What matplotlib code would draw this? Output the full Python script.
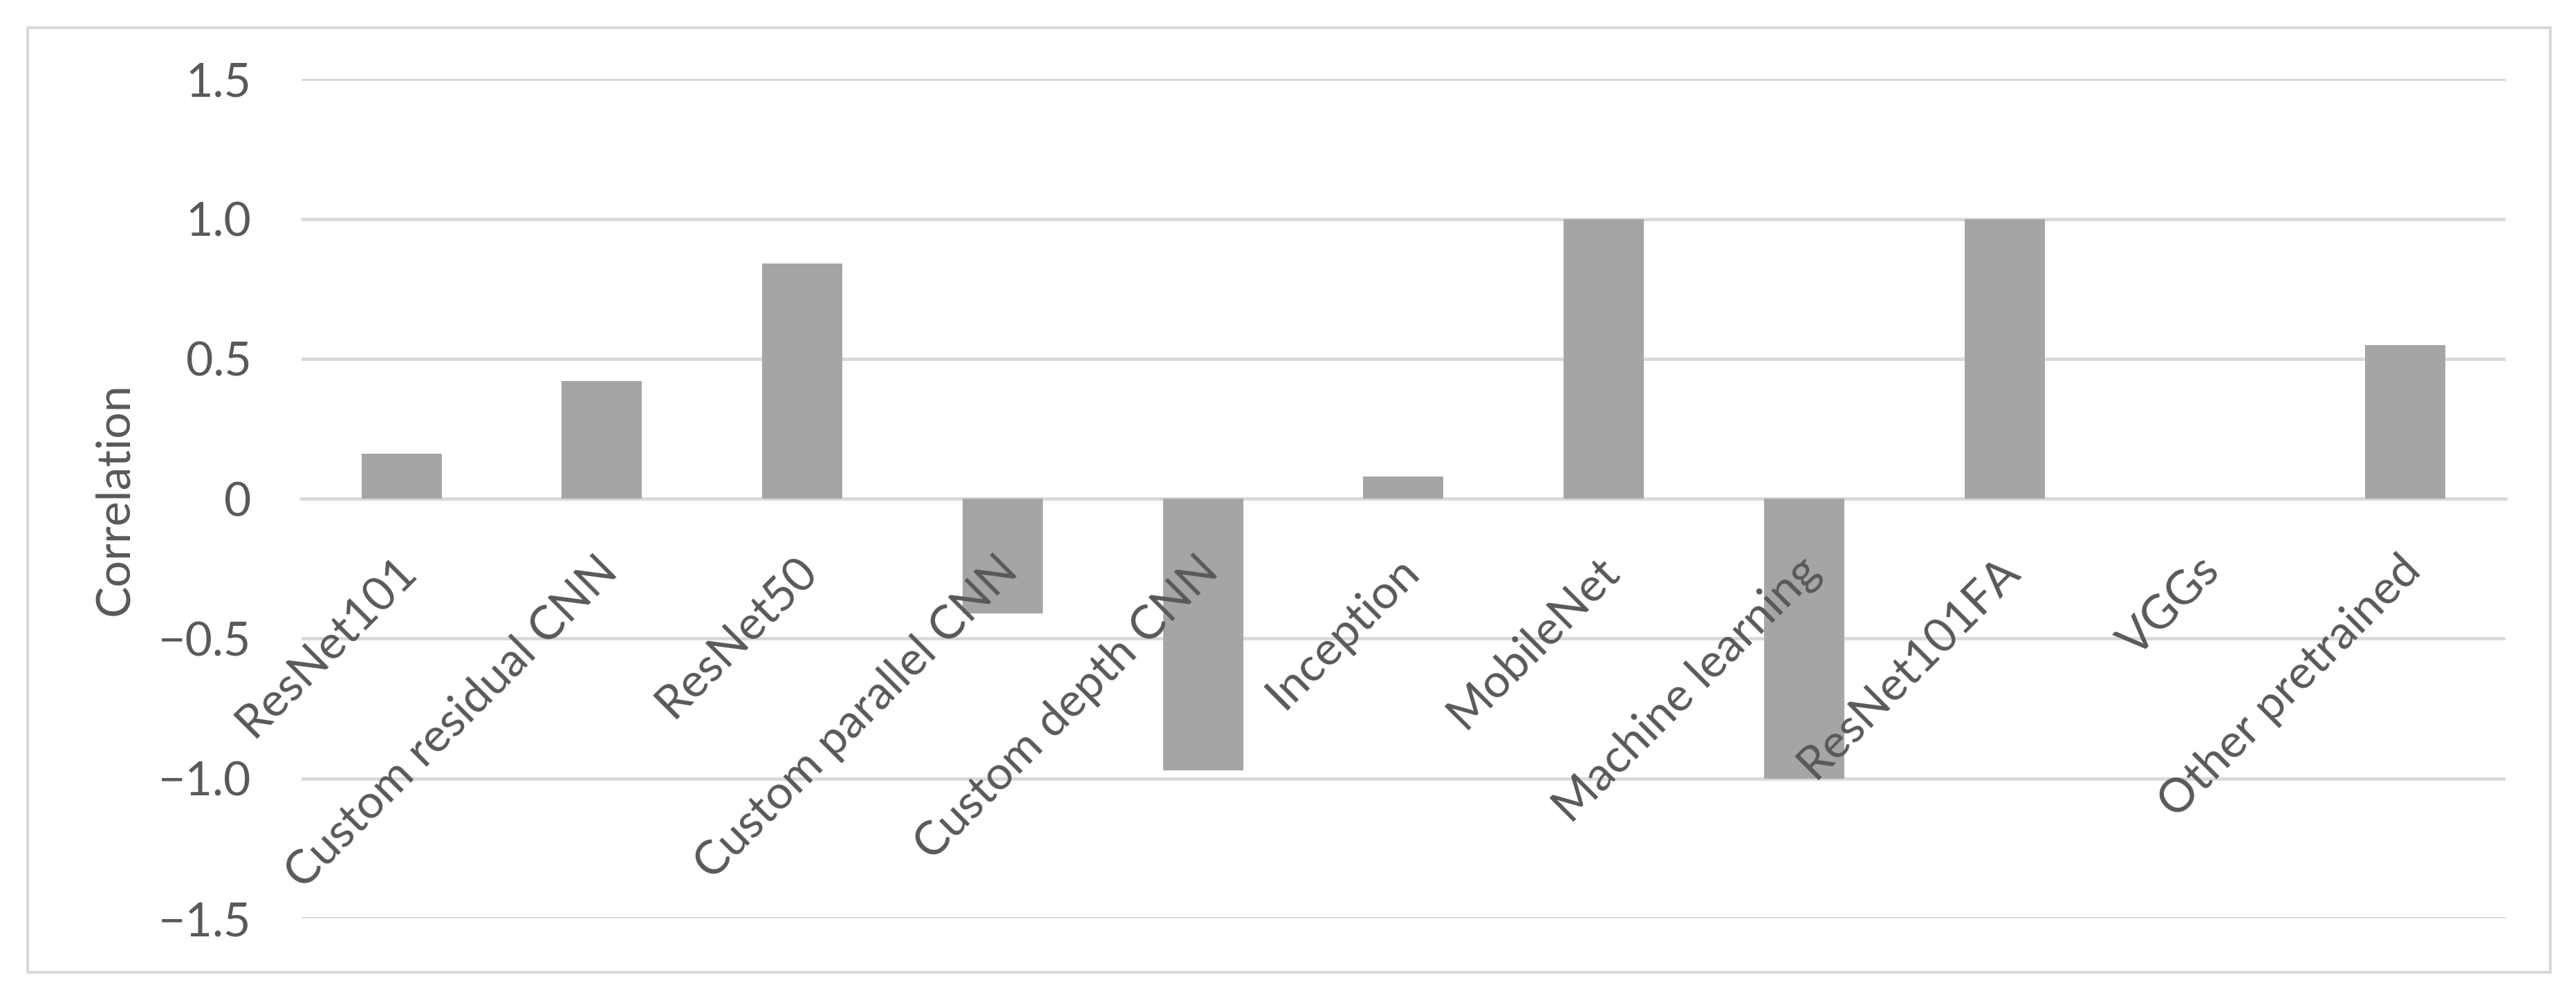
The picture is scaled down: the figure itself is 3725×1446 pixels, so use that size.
import matplotlib.pyplot as plt
from matplotlib.patches import Rectangle
from matplotlib.transforms import ScaledTranslation

# data
models = ["ResNet101", "Custom residual CNN", "ResNet50", "Custom parallel CNN",
          "Custom depth CNN", "Inception", "MobileNet", "Machine learning",
          "ResNet101FA", "VGGs", "Other pretrained"]
correlation = [0.16, 0.42, 0.84, -0.41, -0.97, 0.08, 1.0, -1.0, 1.0, 0.0, 0.55]
y_ticks = [-1.5, -1.0, -0.5, 0, 0.5, 1.0, 1.5]
y_tick_labels = ["\u22121.5", "\u22121.0", "\u22120.5", "0", "0.5", "1.0", "1.5"]

text_color = "#595959"
grid_color = "#d9d9d9"
bar_color = "#a5a5a5"

plt.rcParams['font.family'] = ['Lato', 'DejaVu Sans']

fig = plt.figure(figsize=(37.25, 14.46), dpi=100)
ax = fig.add_axes([0.117, 0.0816, 0.8556, 0.8394])

x = list(range(len(models)))
ax.bar(x, correlation, width=0.4, color=bar_color, zorder=3)

ax.set_xlim(-0.5, len(models) - 0.5)
ax.set_ylim(-1.5, 1.5)
ax.set_yticks(y_ticks)
ax.set_yticklabels(y_tick_labels)
ax.yaxis.grid(True, color=grid_color, linewidth=3.5, zorder=0)
ax.set_axisbelow(True)

for side in ["top", "right", "left"]:
    ax.spines[side].set_visible(False)
ax.spines["bottom"].set_position(("data", 0))
ax.spines["bottom"].set_color(grid_color)
ax.spines["bottom"].set_linewidth(3.5)

# category labels sit over the bars, like in Excel
ax.xaxis.set_zorder(4)
ax.set_xticks(x)
ax.set_xticklabels(models, rotation=45, ha="right", va="top",
                   rotation_mode="anchor", fontsize=49, color=text_color)
ax.tick_params(axis="x", length=0, pad=52)
shift = ScaledTranslation(-0.10, 0, fig.dpi_scale_trans)
for lbl in ax.get_xticklabels():
    lbl.set_transform(lbl.get_transform() + shift)

ax.tick_params(axis="y", length=0, pad=52, labelsize=49, labelcolor=text_color)

ax.set_ylabel("Correlation", fontsize=49, color=text_color)
ax.yaxis.set_label_coords(-0.075, 0.5)

# outer chart border
fig.patches.append(Rectangle((0.0107, 0.028), 0.9794, 0.944, transform=fig.transFigure,
                             fill=False, edgecolor=grid_color, linewidth=3))

fig.savefig("out.png", dpi=100)
